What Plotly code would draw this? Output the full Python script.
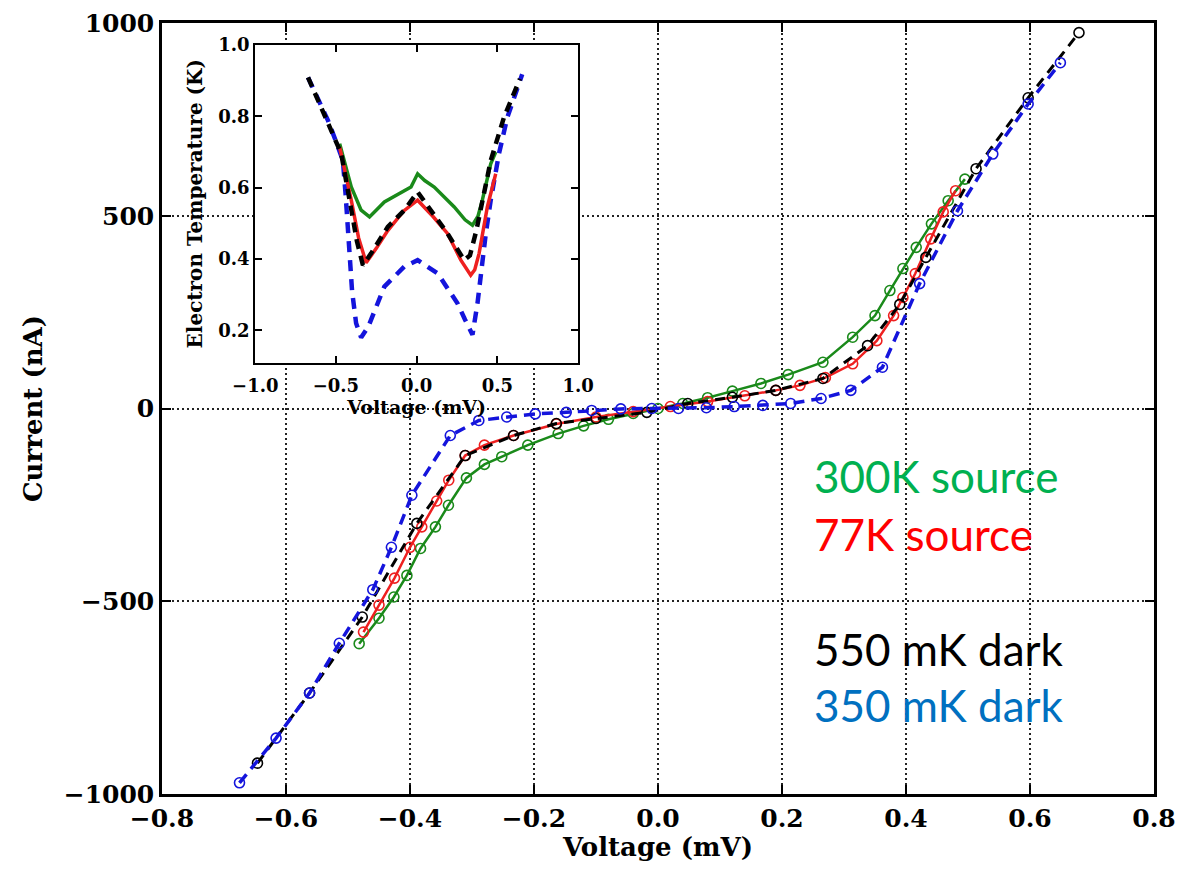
import plotly.graph_objects as go

# ---------------- main I-V data ----------------
v_green = [-0.482, -0.450, -0.426, -0.405, -0.383, -0.359, -0.338, -0.309, -0.280, -0.252, -0.210, -0.161,
           -0.120, -0.080, -0.040, 0.000, 0.040, 0.080, 0.120, 0.166, 0.210, 0.266, 0.314, 0.350, 0.374,
           0.395, 0.4165, 0.441, 0.468, 0.495]
i_green = [-610, -544, -489, -433, -363, -307, -251, -180, -145, -125, -95, -65,
           -45, -28, -13, 0, 13, 28, 45, 65, 88, 120, 185, 241, 306,
           363, 418, 479, 539, 595]

v_red = [-0.475, -0.450, -0.425, -0.400, -0.381, -0.357, -0.3375, -0.311, -0.280, -0.233, -0.164, -0.100,
         -0.040, 0.020, 0.080, 0.140, 0.190, 0.229, 0.270, 0.314, 0.353, 0.380, 0.395, 0.415, 0.440,
         0.460, 0.480]
i_red = [-580, -510, -440, -360, -307, -240, -186, -122, -95, -70, -40, -22,
         -8, 5, 18, 33, 47, 60, 80, 116, 176, 241, 288, 350, 440,
         510, 565]

v_black = [-0.646, -0.562, -0.477, -0.389, -0.311, -0.233, -0.164, -0.100, -0.018, 0.048, 0.120, 0.190,
           0.266, 0.338, 0.390, 0.432, 0.513, 0.597, 0.679]
i_black = [-920, -738, -541, -298, -122, -70, -39, -26, -10, 13, 29, 47,
           78, 163, 270, 392, 622, 806, 975]

v_blue = [-0.675, -0.616, -0.562, -0.514, -0.460, -0.430, -0.397, -0.335, -0.289, -0.244, -0.198, -0.148,
          -0.107, -0.060, -0.010, 0.033, 0.078, 0.123, 0.169, 0.214, 0.263, 0.311, 0.362, 0.422,
          0.483, 0.540, 0.597, 0.649]
i_blue = [-971, -855, -738, -609, -470, -360, -225, -70, -31, -22, -14, -10,
          -5, -1, 0, 0, 2, 5, 8, 13, 26, 47, 107, 324,
          513, 660, 790, 897]

# ---------------- inset electron temperature data ----------------
iv_blue = [-0.673, -0.620, -0.549, -0.500, -0.457, -0.440, -0.420, -0.400, -0.375, -0.344, -0.300, -0.200,
           -0.076, 0.006, 0.130, 0.253, 0.300, 0.346, 0.377, 0.397, 0.428, 0.459, 0.510, 0.562, 0.654]
it_blue = [0.909, 0.860, 0.788, 0.730, 0.676, 0.580, 0.450, 0.310, 0.220, 0.180, 0.210, 0.323,
           0.379, 0.397, 0.360, 0.276, 0.230, 0.188, 0.276, 0.360, 0.470, 0.565, 0.695, 0.797, 0.918]

iv_green = [-0.477, -0.440, -0.405, -0.344, -0.292, -0.200, -0.076, -0.035, 0.006, 0.050, 0.109, 0.233,
            0.300, 0.346, 0.380, 0.407, 0.459, 0.490]
it_green = [0.723, 0.660, 0.602, 0.537, 0.518, 0.560, 0.593, 0.602, 0.639, 0.620, 0.602, 0.546,
            0.510, 0.495, 0.520, 0.565, 0.667, 0.700]

iv_red = [-0.477, -0.450, -0.405, -0.360, -0.313, -0.250, -0.179, -0.080, 0.006, 0.100, 0.191, 0.274,
          0.335, 0.360, 0.387, 0.438, 0.490]
it_red = [0.714, 0.660, 0.565, 0.460, 0.390, 0.430, 0.480, 0.535, 0.565, 0.520, 0.472, 0.397,
          0.355, 0.370, 0.416, 0.546, 0.639]

iv_black = [-0.673, -0.600, -0.529, -0.467, -0.440, -0.405, -0.370, -0.333, -0.282, -0.179, -0.076, 0.006,
            0.088, 0.191, 0.294, 0.330, 0.370, 0.407, 0.459, 0.541, 0.640]
it_black = [0.909, 0.830, 0.760, 0.695, 0.630, 0.546, 0.450, 0.383, 0.416, 0.490, 0.537, 0.588,
            0.537, 0.472, 0.397, 0.410, 0.480, 0.560, 0.676, 0.797, 0.905]

main_xticks = [-0.8, -0.6, -0.4, -0.2, 0.0, 0.2, 0.4, 0.6, 0.8]
main_yticks = [-1000, -500, 0, 500, 1000]
inset_xticks = [-1.0, -0.5, 0.0, 0.5, 1.0]
inset_yticks = [0.2, 0.4, 0.6, 0.8, 1.0]

labels = ["300K source", "77K source", "550 mK dark", "350 mK dark"]
label_colors = ["#00b050", "#ff0000", "#000000", "#0070c0"]
label_y = [0.4126, 0.3374, 0.1885, 0.1159]

GREEN = "#1a8a1a"
RED = "#ee2020"
BLUE = "#1414dc"
BLACK = "#000000"

SERIF = "DejaVu Serif"

fig = go.Figure()

def main_trace(x, y, color, dash, width):
    fig.add_trace(go.Scatter(
        x=x, y=y, mode="lines+markers", xaxis="x", yaxis="y",
        line=dict(color=color, width=width, dash=dash),
        marker=dict(symbol="circle-open", size=10, color=color, line=dict(width=1.6, color=color)),
        showlegend=False, hoverinfo="skip"))

main_trace(v_green, i_green, GREEN, "solid", 2.5)
main_trace(v_red, i_red, RED, "solid", 2.5)
main_trace(v_black, i_black, BLACK, "10px,7px", 3)
main_trace(v_blue, i_blue, BLUE, "11px,7px", 3.5)

def inset_trace(x, y, color, dash, width):
    fig.add_trace(go.Scatter(
        x=x, y=y, mode="lines", xaxis="x2", yaxis="y2",
        line=dict(color=color, width=width, dash=dash),
        showlegend=False, hoverinfo="skip"))

inset_trace(iv_blue, it_blue, BLUE, "11px,8px", 4.5)
inset_trace(iv_green, it_green, GREEN, "solid", 3.5)
inset_trace(iv_red, it_red, RED, "solid", 3.5)
inset_trace(iv_black, it_black, BLACK, "10px,7px", 4.5)

for txt, col, yy in zip(labels, label_colors, label_y):
    fig.add_annotation(text=txt, x=0.6555, y=yy, xref="paper", yref="paper",
                       xanchor="left", yanchor="middle", showarrow=False,
                       font=dict(family="Lato", size=44, color=col))

tickfont_main = dict(family=SERIF, size=25, color="black", weight="bold")
tickfont_inset = dict(family=SERIF, size=18, color="black", weight="bold")

# page body has an 8px margin on every side: the figure is sized so the page fits the window
fig.update_layout(
    width=1170, height=854,
    margin=dict(l=154, r=24, t=15, b=68, autoexpand=False),
    paper_bgcolor="white", plot_bgcolor="white",
    xaxis=dict(domain=[0, 1], range=[-0.8, 0.8], tickvals=main_xticks, tickformat=".1f",
               automargin=False, ticklabeloverflow="allow",
               showline=True, linewidth=2.5, linecolor="black", mirror="ticks",
               ticks="inside", ticklen=9, tickwidth=2, tickcolor="black",
               showgrid=True, gridcolor="#222222", gridwidth=2, griddash="2px,3px",
               zeroline=False, tickfont=tickfont_main,
               title=dict(text="Voltage (mV)", font=dict(family=SERIF, size=26, color="black", weight="bold"),
                          standoff=4)),
    yaxis=dict(domain=[0, 1], range=[-1000, 1000], tickvals=main_yticks,
               automargin=False, ticklabeloverflow="allow",
               showline=True, linewidth=2.5, linecolor="black", mirror="ticks",
               ticks="inside", ticklen=9, tickwidth=2, tickcolor="black",
               showgrid=True, gridcolor="#222222", gridwidth=2, griddash="2px,3px",
               zeroline=False, tickfont=tickfont_main,
               title=dict(text="Current (nA)", font=dict(family=SERIF, size=26, color="black", weight="bold"),
                          standoff=14)),
    xaxis2=dict(domain=[0.0940, 0.4194], anchor="y2", range=[-1.0, 1.0], tickvals=inset_xticks,
                automargin=False, ticklabeloverflow="allow",
                tickformat=".1f", showline=True, linewidth=2, linecolor="black", mirror="ticks",
                ticks="inside", ticklen=7, tickwidth=1.5, tickcolor="black",
                showgrid=False, zeroline=False, tickfont=tickfont_inset, ticklabelstandoff=6,
                title=dict(text="Voltage (mV)", font=dict(family=SERIF, size=19, color="black", weight="bold"),
                           standoff=2)),
    yaxis2=dict(domain=[0.5596, 0.9715], anchor="x2", range=[0.11, 1.0], tickvals=inset_yticks,
                automargin=False, ticklabeloverflow="allow",
                tickformat=".1f", showline=True, linewidth=2, linecolor="black", mirror="ticks",
                ticks="inside", ticklen=7, tickwidth=1.5, tickcolor="black",
                showgrid=False, zeroline=False, tickfont=tickfont_inset,
                title=dict(text="Electron Temperature (K)",
                           font=dict(family=SERIF, size=20, color="black", weight="bold"),
                           standoff=10)),
)

fig.write_html("out.html")
